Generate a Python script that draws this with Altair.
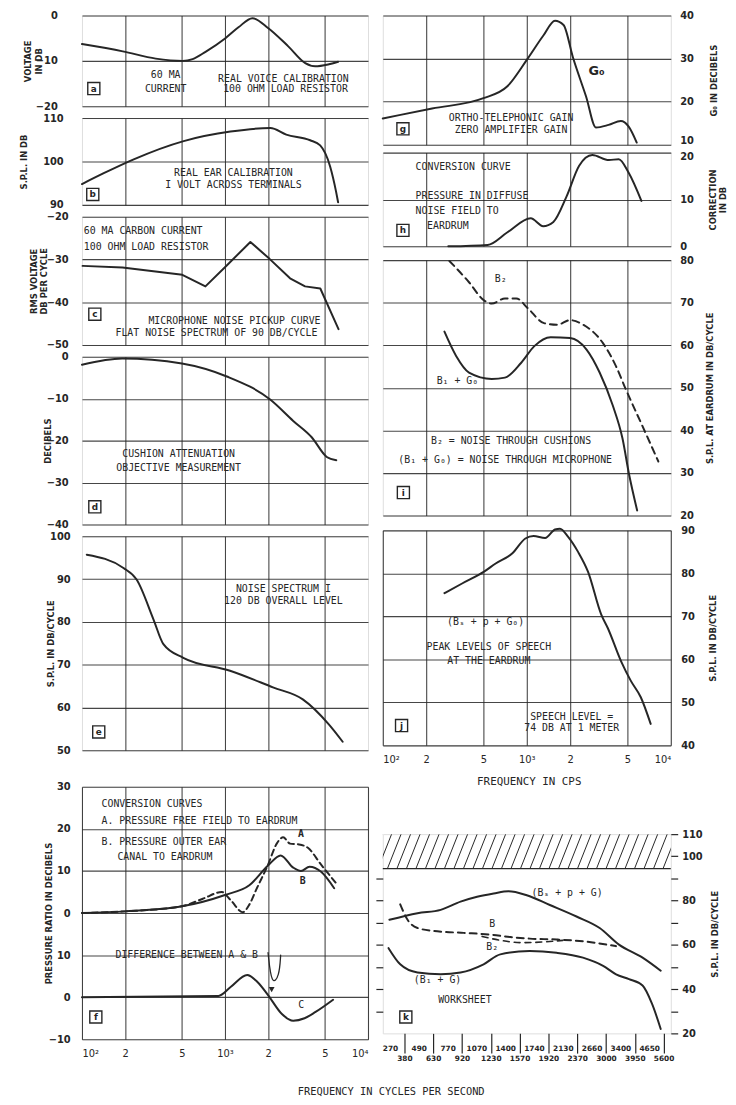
import altair as alt
import pandas as pd

INK = "#262626"
FONT = "DejaVu Sans"
LETTER = "DejaVu Sans Mono"

# ---------------- shared frequency axis (Hz, log) ----------------
X_GRID = [200, 500, 1000, 2000, 5000]
X_LABEL_VALUES = [100, 200, 500, 1000, 2000, 5000, 10000]
X_LABEL_TEXT = ["10²", "2", "5", "10³", "2", "5", "10⁴"]

# ---------------- (a) real voice calibration ----------------
A_FREQ = [100, 193, 328, 506, 594, 731, 1007, 1242, 1556, 2010, 2770, 3640, 4270, 5260, 6180]
A_DB = [-6.3, -7.9, -9.5, -10.0, -9.6, -8.0, -5.0, -2.6, -0.6, -2.8, -6.8, -10.5, -11.2, -10.8, -10.2]
A_TEXT = [("60 MA", 385, -13.2), ("CURRENT", 385, -16.1),
          ("REAL VOICE CALIBRATION", 2560, -13.9), ("100 OHM LOAD RESISTOR", 2650, -16.1)]
A_BOX = ("a", 121, -16.1)

# ---------------- (b) real ear calibration ----------------
B_FREQ = [100, 142, 230, 514, 1092, 2075, 2683, 3940, 4630, 5440, 5985, 6180]
B_DB = [94.8, 97.3, 100.5, 104.7, 106.9, 107.7, 106.2, 104.9, 103.7, 98.8, 93.0, 90.6]
B_TEXT = [("REAL EAR CALIBRATION", 1146, 97.3), ("I VOLT ACROSS TERMINALS", 1146, 94.6)]
B_BOX = ("b", 119, 92.4)

# ---------------- (c) microphone noise pickup ----------------
C_FREQ = [101, 192, 503, 730, 1037, 1505, 2040, 2850, 3630, 4640, 6220]
C_DB = [-31.5, -31.9, -33.6, -36.3, -31.3, -25.9, -29.8, -34.4, -36.3, -36.8, -46.3]
C_TEXT_LEFT = [("60 MA CARBON CURRENT", 103, -23.4), ("100 OHM LOAD RESISTOR", 103, -27.0)]
C_TEXT = [("MICROPHONE NOISE PICKUP CURVE", 1165, -44.5),
          ("FLAT NOISE SPECTRUM OF 90 DB/CYCLE", 871, -47.3)]
C_BOX = ("c", 123, -42.8)

# ---------------- (d) cushion attenuation ----------------
D_FREQ = [100, 191, 500, 1030, 2070, 3000, 4040, 5150, 6000]
D_DB = [-1.9, -0.4, -1.6, -4.7, -10.2, -15.3, -19.2, -23.9, -24.7]
D_TEXT = [("CUSHION ATTENUATION", 474, -23.2), ("OBJECTIVE MEASUREMENT", 474, -26.5)]
D_BOX = ("d", 123, -35.8)

# ---------------- (e) noise spectrum ----------------
E_FREQ = [108, 195, 241, 316, 371, 511, 1085, 2165, 3500, 5340, 6650]
E_DB = [95.7, 92.6, 89.9, 80.6, 74.8, 71.6, 68.6, 64.7, 61.9, 56.0, 52.0]
E_TEXT = [("NOISE SPECTRUM I", 2560, 87.7), ("120 DB OVERALL LEVEL", 2560, 84.9)]
E_BOX = ("e", 131, 54.3)

# ---------------- (f) conversion curves (upper scale offset by +20) ----------------
F_OFFSET = 20
FA_FREQ = [100, 200, 500, 700, 950, 1100, 1330, 1480, 1650, 2000, 2300, 2550, 2850, 3300, 3800, 4700, 5950]
FA_DB = [0, 0.4, 1.6, 3.4, 5.0, 3.0, 0.2, 2.0, 5.5, 11.5, 16.5, 18.0, 16.5, 16.3, 15.5, 11.5, 7.2]
FB_FREQ = [100, 200, 500, 1000, 1480, 2000, 2450, 3000, 3400, 3900, 4700, 5800]
FB_DB = [0, 0.4, 1.6, 4.3, 6.6, 11.3, 13.7, 10.8, 10.0, 11.0, 9.8, 5.9]
FC_FREQ = [100, 900, 1100, 1430, 1700, 2000, 2500, 3000, 3600, 4300, 5700]
FC_DB = [0, 0.3, 2.5, 5.3, 3.5, 0.5, -4.0, -5.6, -5.0, -3.5, -0.6]
F_TEXT_LEFT = [("CONVERSION CURVES", 137, 25.8), ("A. PRESSURE FREE FIELD TO EARDRUM", 137, 21.8),
               ("B. PRESSURE OUTER EAR", 137, 16.9), ("CANAL TO EARDRUM", 177, 13.3)]
F_TEXT_UPPER = [("A", 3400, 18.7), ("B", 3500, 7.7)]
F_TEXT_LOWER = [("DIFFERENCE BETWEEN A & B", 540, 10.0), ("C", 3410, -1.8)]
F_ARROW_FREQ = [2000, 2450, 2400, 2120]
F_ARROW_DB = [10.6, 10.0, 5.0, 2.6]
F_BOX = ("f", 125, -4.7)

# ---------------- (g) ortho-telephonic gain ----------------
G_FREQ = [100, 220, 500, 730, 1000, 1300, 1570, 1800, 2090, 2580, 3020, 3700, 4500, 5100, 5800]
G_DB = [16.1, 18.4, 20.8, 23.5, 29.7, 35.3, 38.8, 37.8, 30.3, 21.2, 14.0, 14.6, 15.5, 14.2, 10.5]
G_TEXT = [("ORTHO-TELEPHONIC GAIN", 778, 16.3), ("ZERO AMPLIFIER GAIN", 778, 13.5)]
G_LABEL = ("G₀", 3050, 27.0)
G_BOX = ("g", 138, 13.7)

# ---------------- (h) diffuse field conversion ----------------
H_FREQ = [285, 535, 734, 1065, 1300, 1530, 1880, 2310, 2850, 3720, 4350, 5100, 6250]
H_DB = [0, 0.3, 3.0, 6.0, 4.3, 5.2, 10.5, 17.2, 19.5, 18.4, 18.6, 15.7, 9.7]
H_TEXT_LEFT = [("CONVERSION CURVE", 169, 16.9), ("PRESSURE IN DIFFUSE", 169, 10.8),
               ("NOISE FIELD TO", 169, 7.6), ("EARDRUM", 203, 4.3)]
H_BOX = ("h", 138, 3.4)

# ---------------- (i) noise at eardrum ----------------
IB2_FREQ = [290, 397, 502, 571, 705, 846, 1016, 1318, 1625, 2000, 2470, 3380, 4160, 4865, 6320, 8200]
IB2_DB = [79.8, 74.8, 70.6, 69.8, 71.0, 71.0, 68.7, 65.2, 64.8, 65.9, 64.8, 60.5, 55.1, 49.7, 41.2, 32.7]
IBG_FREQ = [268, 323, 397, 571, 705, 915, 1128, 1464, 2000, 2600, 3205, 3950, 4620, 5130, 5840]
IBG_DB = [63.2, 57.5, 53.6, 52.1, 52.4, 55.9, 59.8, 61.9, 61.7, 59.0, 53.6, 45.9, 38.1, 29.7, 21.2]
I_TEXT = [("B₂", 660, 75.5), ("B₁ + G₀", 330, 51.7),
          ("B₂ = NOISE THROUGH CUSHIONS", 778, 37.4),
          ("(B₁ + G₀) = NOISE THROUGH MICROPHONE", 708, 33.0)]
I_BOX = ("i", 139, 25.4)

# ---------------- (j) speech peaks ----------------
J_FREQ = [268, 358, 505, 608, 791, 977, 1114, 1340, 1570, 1700, 1937, 2270, 2660, 3290, 3650, 4510, 5280, 6190, 7250]
J_DB = [75.4, 77.7, 80.4, 82.3, 84.6, 88.1, 88.7, 88.2, 90.2, 90.4, 88.5, 85.0, 80.4, 70.4, 67.3, 59.6, 55.0, 51.2, 45.0]
J_TEXT = [("(Bₛ + p + G₀)", 518, 68.7), ("PEAK LEVELS OF SPEECH", 545, 62.9),
          ("AT THE EARDRUM", 545, 59.5), ("SPEECH LEVEL =", 2050, 46.7),
          ("74 DB AT 1 METER", 2050, 44.1)]
J_BOX = ("j", 135, 44.6)

# ---------------- (k) worksheet (20 equal bands) ----------------
K_MID_FREQ = [270, 380, 490, 630, 770, 920, 1070, 1230, 1400, 1570,
              1740, 1920, 2130, 2370, 2660, 3000, 3400, 3950, 4650, 5600]
K_SPEECH_BAND = [0.46, 2.41, 4.02, 5.4, 6.55, 7.7, 8.73, 10.0, 11.6, 13.45, 15.06, 16.4, 18.04, 19.3]
K_SPEECH_DB = [71.3, 74.3, 75.8, 79.5, 81.7, 83.2, 84.2, 82.4, 78.0, 72.8, 67.6, 60.1, 54.2, 48.3]
K_B_BAND = [1.21, 1.72, 2.41, 3.79, 5.63, 7.47, 8.85, 10.2, 12.07, 13.9, 16.2]
K_B_DB = [78.3, 71.3, 67.6, 66.1, 65.4, 64.6, 63.5, 62.8, 62.4, 61.6, 59.4]
K_B2_BAND = [6.9, 8.2, 9.6, 11.2, 12.5]
K_B2_DB = [63.8, 62.0, 61.0, 61.3, 62.0]
K_BG_BAND = [0.4, 1.21, 2.41, 4.02, 5.4, 7.0, 8.16, 10.2, 12.07, 13.9, 15.3, 16.2, 17.1, 18.04, 18.7, 19.3]
K_BG_DB = [58.5, 51.2, 47.5, 46.7, 47.5, 51.2, 55.7, 57.2, 56.4, 54.2, 50.5, 46.7, 44.5, 41.6, 33.3, 22.0]
K_TEXT = [("(Bₛ + p + G)", 12.8, 83.2), ("B", 7.6, 69.4), ("B₂", 7.6, 58.8),
          ("(B₁ + G)", 3.8, 44.1), ("WORKSHEET", 5.7, 34.9)]
K_BOX = ("k", 1.6, 27.4)
K_HATCH_LOW = 94.4
K_HATCH_STARTS = [-1.0 + 0.66 * i for i in range(33)]
K_HATCH_RUN = 0.95

# ---------------- helpers ----------------
def js_list(seq):
    return "[" + ",".join("'" + str(s) + "'" for s in seq) + "]"

X_LABEL_EXPR = js_list(X_LABEL_TEXT) + "[indexof(" + str(X_LABEL_VALUES) + ", datum.value)]"

AX = dict(labelFont=FONT, labelColor=INK, titleFont=FONT, titleColor=INK,
          gridColor=INK, gridWidth=1.1, gridOpacity=0.85, domain=False)


def fscale():
    return alt.Scale(type="log", domain=[100, 10000], nice=False)


def lscale(lo, hi):
    return alt.Scale(domain=[lo, hi], nice=False, zero=False)


def x_grid_axis():
    return alt.Axis(values=X_GRID, grid=True, labels=False, ticks=False, title=None, **AX)


def x_label_axis(title, tx, ty, size):
    kw = dict(AX)
    kw.update(values=X_LABEL_VALUES, grid=True, ticks=False, labelExpr=X_LABEL_EXPR,
              labelPadding=9, labelFlush=True, labelFontSize=10, labelFontWeight="normal")
    if title:
        kw.update(title=title, titleX=tx, titleY=ty, titleBaseline="middle", titleAlign="center",
                  titleFont=LETTER, titleFontSize=size, titleFontWeight="normal")
    else:
        kw.update(title=None)
    return alt.Axis(**kw)


def y_axis(values, orient, title, tx, height, pad, label_expr=None, label_offset=None):
    kw = dict(AX)
    kw.update(values=values, orient=orient, grid=True, ticks=False, title=title, titleX=tx,
              titleY=height / 2, titleAngle=270, titleBaseline="middle", titleAlign="center",
              titleFontSize=8.5, titleFontWeight="bold", labelFontSize=10, labelFontWeight="bold",
              labelPadding=pad)
    if label_expr:
        kw["labelExpr"] = label_expr
    if label_offset:
        kw["labelOffset"] = {"condition": {"test": "datum.value == " + str(label_offset[0]),
                                           "value": label_offset[1]}, "value": 0}
    return alt.Axis(**kw)


def line(xv, yv, xs, ys, xaxis=None, yaxis=None, dash=None, interp="monotone", width=2.0):
    df = pd.DataFrame({"x": xv, "y": yv})
    mk = dict(color=INK, strokeWidth=width, interpolate=interp, strokeCap="round", strokeJoin="round")
    if dash:
        mk["strokeDash"] = dash
    return alt.Chart(df).mark_line(**mk).encode(
        x=alt.X("x:Q", scale=xs, axis=xaxis), y=alt.Y("y:Q", scale=ys, axis=yaxis))


def texts(items, xs, ys, align="center", size=10, weight="normal", dy=0.0, font=LETTER):
    df = pd.DataFrame(items, columns=["t", "x", "y"])
    df["y"] = df["y"] + dy
    return alt.Chart(df).mark_text(align=align, baseline="middle", font=font, fontSize=size,
                                   fontWeight=weight, color=INK).encode(
        x=alt.X("x:Q", scale=xs, axis=None), y=alt.Y("y:Q", scale=ys, axis=None), text="t:N")


def box(item, xs, ys):
    df = pd.DataFrame([item], columns=["t", "x", "y"])
    base = alt.Chart(df).encode(x=alt.X("x:Q", scale=xs, axis=None), y=alt.Y("y:Q", scale=ys, axis=None))
    sq = base.mark_point(shape="square", filled=False, size=150, color=INK, strokeWidth=1.4, opacity=1)
    tx = base.mark_text(font=FONT, fontSize=9, fontWeight="bold", color=INK, baseline="middle").encode(text="t:N")
    return [sq, tx]


def panel(layers, width, height):
    return alt.layer(*layers).resolve_axis(x="independent", y="independent").properties(
        width=width, height=height)


def gap(h):
    return alt.Chart(pd.DataFrame({"z": [0]})).mark_point(opacity=0, size=0).encode(
        x=alt.X("z:Q", axis=None), y=alt.Y("z:Q", axis=None)).properties(
        width=1, height=h, view=alt.ViewBackground(stroke="transparent"))


LW = 290
RW = 292

# ---------------- panels ----------------
xs = fscale()

ys = lscale(-20, 0)
pa = panel([
    line(A_FREQ, A_DB, xs, ys, x_grid_axis(), y_axis([-20, -10, 0], "left", ["VOLTAGE", "IN DB"], -55, 92, 25)),
    texts(A_TEXT, xs, ys), *box(A_BOX, xs, ys)], LW, 92)

ys = lscale(90, 110)
pb = panel([
    line(B_FREQ, B_DB, xs, ys, x_grid_axis(), y_axis([90, 100, 110], "left", "S.P.L. IN DB", -59, 88, 19)),
    texts(B_TEXT, xs, ys), *box(B_BOX, xs, ys)], LW, 88)

ys = lscale(-50, -20)
pc = panel([
    line(C_FREQ, C_DB, xs, ys, x_grid_axis(),
         y_axis([-50, -40, -30, -20], "left", ["RMS VOLTAGE", "DB PER CYCLE"], -49, 130, 14),
         interp="linear"),
    texts(C_TEXT_LEFT, xs, ys, align="left"), texts(C_TEXT, xs, ys), *box(C_BOX, xs, ys)], LW, 130)

ys = lscale(-40, 0)
pd_ = panel([
    line(D_FREQ, D_DB, xs, ys, x_grid_axis(), y_axis([-40, -30, -20, -10, 0], "left", "DECIBELS", -35, 170, 14)),
    texts(D_TEXT, xs, ys), *box(D_BOX, xs, ys)], LW, 170)

ys = lscale(50, 100)
pe = panel([
    line(E_FREQ, E_DB, xs, ys, x_grid_axis(), y_axis([50, 60, 70, 80, 90, 100], "left", "S.P.L. IN DB/CYCLE", -32, 217, 12)),
    texts(E_TEXT, xs, ys), *box(E_BOX, xs, ys)], LW, 217)

ys = lscale(-10, 50)
F_LABEL_EXPR = "datum.value >= 20 ? format(datum.value - 20, 'd') : format(datum.value, 'd')"
pf = panel([
    line(FC_FREQ, FC_DB, xs, ys, x_label_axis(None, 0, 0, 10),
         y_axis([-10, 0, 10, 20, 30, 40, 50], "left", "PRESSURE RATIO IN DECIBELS", -34, 256, 12,
                label_expr=F_LABEL_EXPR)),
    line(FB_FREQ, [v + F_OFFSET for v in FB_DB], xs, ys),
    line(FA_FREQ, [v + F_OFFSET for v in FA_DB], xs, ys, dash=[6, 4]),
    line(F_ARROW_FREQ, F_ARROW_DB, xs, ys, width=1.3, interp="basis"),
    alt.Chart(pd.DataFrame({"x": [F_ARROW_FREQ[-1]], "y": [F_ARROW_DB[-1] - 0.8]})).mark_point(
        shape="triangle-down", filled=True, size=35, color=INK, opacity=1).encode(
        x=alt.X("x:Q", scale=xs, axis=None), y=alt.Y("y:Q", scale=ys, axis=None)),
    texts(F_TEXT_LEFT, xs, ys, align="left", dy=F_OFFSET),
    texts(F_TEXT_UPPER, xs, ys, dy=F_OFFSET, weight="bold"),
    texts(F_TEXT_LOWER, xs, ys),
    *box(F_BOX, xs, ys)], LW, 256)

ys = lscale(10, 40)
pg = panel([
    line(G_FREQ, G_DB, xs, ys, x_grid_axis(),
         y_axis([10, 20, 30, 40], "right", "G₀ IN DECIBELS", 43, 131, 9, label_offset=(10, -4))),
    texts(G_TEXT, xs, ys), texts([G_LABEL], xs, ys, size=13, weight="bold", font=FONT),
    *box(G_BOX, xs, ys)], RW, 131)

ys = lscale(0, 20)
ph = panel([
    line(H_FREQ, H_DB, xs, ys, x_grid_axis(),
         y_axis([0, 10, 20], "right", ["CORRECTION", "IN DB"], 42, 95, 9, label_offset=(20, 4))),
    texts(H_TEXT_LEFT, xs, ys, align="left"), *box(H_BOX, xs, ys)], RW, 95)

ys = lscale(20, 80)
pi = panel([
    line(IBG_FREQ, IBG_DB, xs, ys, x_grid_axis(),
         y_axis([20, 30, 40, 50, 60, 70, 80], "right", "S.P.L. AT EARDRUM IN DB/CYCLE", 39, 259, 9)),
    line(IB2_FREQ, IB2_DB, xs, ys, dash=[7, 5]),
    texts(I_TEXT, xs, ys), *box(I_BOX, xs, ys)], RW, 259)

ys = lscale(40, 90)
pj = panel([
    line(J_FREQ, J_DB, xs, ys, x_label_axis("FREQUENCY IN CPS", 148, 37, 11),
         y_axis([40, 50, 60, 70, 80, 90], "right", "S.P.L. IN DB/CYCLE", 42, 218, 10)),
    texts(J_TEXT, xs, ys), *box(J_BOX, xs, ys)], RW, 218)

# worksheet
ks = lscale(0, 20)
ys = lscale(20, 110)
K_POS = [i + 0.5 for i in range(len(K_MID_FREQ))]
k_row1 = alt.Axis(values=K_POS[0::2], orient="bottom", grid=False, ticks=False, domain=False,
                  labelExpr=js_list(K_MID_FREQ[0::2]) + "[floor(datum.value / 2)]",
                  labelPadding=11, labelFont=FONT, labelFontSize=7.5, labelFontWeight="bold",
                  labelColor=INK, title=None, labelOverlap=False)
k_row2 = alt.Axis(values=K_POS[1::2], orient="bottom", grid=False, ticks=True, tickSize=20,
                  tickColor=INK, tickWidth=1.2, domain=False,
                  labelExpr=js_list(K_MID_FREQ[1::2]) + "[floor(datum.value / 2)]",
                  labelPadding=2, labelFont=FONT, labelFontSize=7.5, labelFontWeight="bold",
                  labelColor=INK, title=None, labelOverlap=False)
K_Y_SHOWN = [20, 40, 60, 80, 100, 110]
k_yright = alt.Axis(values=list(range(20, 111, 10)), orient="right", grid=False, ticks=True, tickSize=7,
                    tickColor=INK, tickWidth=1.2, domain=False, labelPadding=4,
                    labelExpr="indexof(" + str(K_Y_SHOWN) + ", datum.value) >= 0 ? datum.label : ''",
                    labelFont=FONT, labelFontSize=10, labelFontWeight="bold", labelColor=INK,
                    title="S.P.L. IN DB/CYCLE", titleX=44, titleY=101, titleAngle=270,
                    titleBaseline="middle", titleAlign="center", titleFont=FONT, titleFontSize=8.5,
                    titleFontWeight="bold", titleColor=INK)
k_yleft = alt.Axis(values=list(range(30, 100, 10)), orient="left", grid=False, ticks=True, tickSize=7,
                   tickColor=INK, tickWidth=1.2, domain=False, labels=False, title=None)

hatch_df = pd.DataFrame({"x": K_HATCH_STARTS,
                         "x2": [s + K_HATCH_RUN for s in K_HATCH_STARTS],
                         "y": [K_HATCH_LOW] * len(K_HATCH_STARTS),
                         "y2": [110] * len(K_HATCH_STARTS)})
hatch = alt.Chart(hatch_df).mark_rule(color=INK, strokeWidth=1, clip=True).encode(
    x=alt.X("x:Q", scale=ks, axis=k_row1), x2="x2:Q",
    y=alt.Y("y:Q", scale=ys, axis=k_yright), y2="y2:Q")
hatch_base = alt.Chart(pd.DataFrame({"x": [0], "x2": [20], "y": [K_HATCH_LOW]})).mark_rule(
    color=INK, strokeWidth=1.4).encode(
    x=alt.X("x:Q", scale=ks, axis=k_row2), x2="x2:Q", y=alt.Y("y:Q", scale=ys, axis=k_yleft))

pk = panel([
    hatch, hatch_base,
    line(K_SPEECH_BAND, K_SPEECH_DB, ks, ys),
    line(K_B_BAND, K_B_DB, ks, ys, dash=[7, 5]),
    line(K_B2_BAND, K_B2_DB, ks, ys, dash=[6, 5], width=1.6),
    line(K_BG_BAND, K_BG_DB, ks, ys),
    texts(K_TEXT, ks, ys), *box(K_BOX, ks, ys)], RW, 202)

# ---------------- layout ----------------
left = alt.vconcat(pa, pb, pc, pd_, pe, gap(23), pf, spacing=0)
right = alt.vconcat(pg, gap(5), ph, gap(6), pi, gap(7), pj, gap(45), pk, spacing=-5)

chart = alt.hconcat(left, right, spacing=5).properties(
    padding={"left": 11, "top": -6, "right": 0, "bottom": 0}, background="white",
    title=alt.TitleParams("FREQUENCY IN CYCLES PER SECOND", orient="bottom", anchor="middle",
                          font=LETTER, fontSize=10.5, fontWeight="normal", color=INK, offset=24, dx=18)
).configure_view(stroke=INK, strokeWidth=1.5).configure(font=FONT)

chart.save("out.html", embed_options={"renderer": "svg", "actions": False})
